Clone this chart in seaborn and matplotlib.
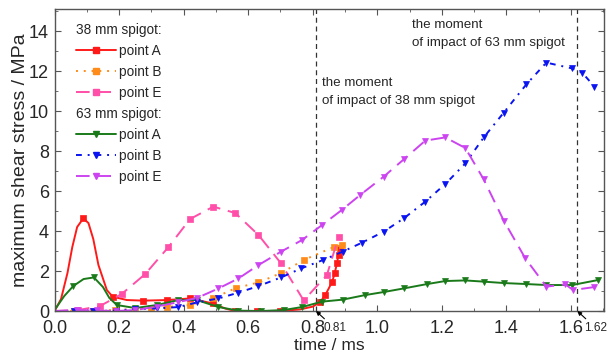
import numpy as np
import matplotlib
matplotlib.use("Agg")
import matplotlib.pyplot as plt
from matplotlib.lines import Line2D
from matplotlib.ticker import MultipleLocator
import seaborn as sns

# ---------------- data ----------------
# 38 mm spigot
t_A38 = [0, 0.02, 0.04, 0.055, 0.07, 0.089, 0.105, 0.12, 0.136, 0.162, 0.18, 0.224, 0.275, 0.35, 0.42, 0.49,
         0.53, 0.56, 0.627, 0.70, 0.76, 0.80, 0.823, 0.839, 0.86, 0.868, 0.875, 0.88, 0.886]
y_A38 = [0, 0.6, 1.9, 3.2, 4.2, 4.63, 4.4, 3.6, 2.3, 1.05, 0.72, 0.55, 0.52, 0.55, 0.63, 0.38,
         0.12, 0.0, 0.0, 0.0, 0.08, 0.22, 0.45, 0.8, 1.45, 1.88, 2.38, 2.8, 3.15]
t_B38 = [0, 0.06, 0.12, 0.188, 0.25, 0.3, 0.348, 0.42, 0.49, 0.562, 0.632, 0.702, 0.772, 0.865, 0.89]
y_B38 = [0, 0.0, 0.02, 0.05, 0.1, 0.15, 0.2, 0.3, 0.63, 1.15, 1.43, 1.9, 2.55, 3.2, 3.3]
t_E38 = [0, 0.074, 0.141, 0.208, 0.281, 0.353, 0.42, 0.492, 0.56, 0.632, 0.702, 0.772, 0.844, 0.88]
y_E38 = [0, 0.05, 0.25, 0.85, 1.85, 3.2, 4.6, 5.22, 4.9, 3.8, 2.38, 0.53, 1.8, 3.7]

# 63 mm spigot
t_A63 = [0, 0.03, 0.058, 0.09, 0.122, 0.15, 0.17, 0.193, 0.25, 0.317, 0.384, 0.441, 0.508, 0.57,
         0.64, 0.71, 0.767, 0.829, 0.893, 0.963, 1.02, 1.082, 1.155, 1.211, 1.273, 1.33, 1.392,
         1.462, 1.524, 1.604, 1.684]
y_A63 = [0.05, 0.75, 1.25, 1.6, 1.68, 1.2, 0.65, 0.3, 0.15, 0.3, 0.55, 0.55, 0.2, 0.02,
         0.0, 0.05, 0.2, 0.47, 0.57, 0.8, 0.95, 1.13, 1.35, 1.5, 1.53, 1.47, 1.4,
         1.35, 1.3, 1.3, 1.55]
t_B63 = [0, 0.06, 0.12, 0.19, 0.25, 0.317, 0.384, 0.441, 0.508, 0.57, 0.632, 0.702, 0.764, 0.832,
         0.893, 0.953, 1.02, 1.082, 1.149, 1.211, 1.273, 1.33, 1.392, 1.462, 1.524, 1.604, 1.635, 1.673]
y_B63 = [0, 0.0, 0.0, 0.02, 0.1, 0.13, 0.2, 0.43, 0.63, 0.92, 1.25, 1.68, 2.13, 2.55,
         2.97, 3.42, 3.97, 4.63, 5.47, 6.35, 7.38, 8.68, 9.92, 11.33, 12.42, 12.13, 11.92, 11.22]
t_E63 = [0, 0.07, 0.13, 0.19, 0.25, 0.317, 0.384, 0.441, 0.508, 0.57, 0.632, 0.702, 0.767, 0.829,
         0.89, 0.947, 1.02, 1.082, 1.149, 1.211, 1.273, 1.33, 1.392, 1.459, 1.524, 1.583, 1.607, 1.673]
y_E63 = [0, 0.05, 0.03, 0.0, 0.05, 0.22, 0.45, 0.65, 1.13, 1.63, 2.3, 2.97, 3.55, 4.3,
         5.05, 5.8, 6.72, 7.58, 8.52, 8.68, 8.15, 6.58, 4.52, 2.63, 1.22, 1.33, 1.05, 1.2]

impact_times = [0.81, 1.62]
impact_labels = ["0.81", "1.62"]
x_ticks = [0.0, 0.2, 0.4, 0.6, 0.8, 1.0, 1.2, 1.4, 1.6]
y_ticks = [0, 2, 4, 6, 8, 10, 12, 14]

# ---------------- style ----------------
sns.set_style("ticks")
FONT = ["Liberation Sans Narrow", "Liberation Sans", "DejaVu Sans"]
plt.rcParams["font.family"] = FONT
plt.rcParams["axes.edgecolor"] = "#555555"
plt.rcParams["axes.linewidth"] = 1.0

C_RED = "#ff1a1a"
C_ORANGE = "#ff8c1a"
C_PINK = "#ff4fa8"
C_GREEN = "#1a7a1a"
C_BLUE = "#0a14f0"
C_VIOLET = "#cc44f0"

fig = plt.figure(figsize=(6.13, 3.6), dpi=100)
ax = fig.add_axes([0.089, 0.136, 0.897, 0.839])

series = [
    (t_A38, y_A38, C_RED, "-", "s", [5, 10, 12, 13, 14, 15, 17, 18, 19] + list(range(22, 29)), "point A"),
    (t_B38, y_B38, C_ORANGE, (0, (1, 3)), "s", list(range(1, 15)), "point B"),
    (t_E38, y_E38, C_PINK, (0, (7, 4)), "s", list(range(1, 14)), "point E"),
    (t_A63, y_A63, C_GREEN, "-", "v", [2, 4] + list(range(7, 31)), "point A"),
    (t_B63, y_B63, C_BLUE, (0, (3, 3, 1, 3)), "v", list(range(1, 28)), "point B"),
    (t_E63, y_E63, C_VIOLET, (0, (7, 4)), "v", list(range(1, 28)), "point E"),
]

handles = []
for t, y, c, ls, mk, me, lab in series:
    sns.lineplot(x=t, y=y, ax=ax, sort=False, estimator=None, color=c, linestyle=ls,
                 linewidth=1.4, marker=mk, markersize=5, markevery=me,
                 markeredgecolor=c, markerfacecolor=c, markeredgewidth=0.5)
    handles.append(Line2D([], [], color=c, linestyle=ls, linewidth=1.4, marker=mk,
                          markersize=5, markeredgecolor=c, markerfacecolor=c, markevery=[1],
                          label=lab))

for xv in impact_times:
    ax.axvline(xv, color="#333333", linestyle=(0, (4, 3)), linewidth=0.9, zorder=1)

ax.set_xlim(0, 1.704)
ax.set_ylim(0, 15.1)
ax.set_xticks(x_ticks)
ax.set_yticks(y_ticks)
ax.set_xticklabels([f"{v:.1f}" for v in x_ticks])
ax.set_yticklabels([str(v) for v in y_ticks])
ax.xaxis.set_minor_locator(MultipleLocator(0.1))
ax.yaxis.set_minor_locator(MultipleLocator(1))
ax.tick_params(which="both", direction="in", top=True, right=True, color="#555555")
ax.tick_params(which="major", length=4, labelsize=13)
ax.tick_params(axis="x", which="major", pad=6.5)
ax.tick_params(axis="y", which="major", pad=4)
ax.tick_params(which="minor", length=2.5)
for sp in ax.spines.values():
    sp.set_visible(True)

ax.set_xlabel("time / ms", fontsize=12.5, labelpad=1)
ax.set_ylabel("maximum shear stress / MPa", fontsize=14, labelpad=0)

# annotations
ax.text(0.83, 10.95, "the moment\nof impact of 38 mm spigot", fontsize=9.6,
        va="center", ha="left", linespacing=1.7)
ax.text(1.108, 13.85, "the moment\nof impact of 63 mm spigot", fontsize=9.6,
        va="center", ha="left", linespacing=1.7)

for xv, lab in zip(impact_times, impact_labels):
    ax.annotate(lab, xy=(xv, 0), xytext=(xv + 0.022, -0.55), textcoords="data",
                fontsize=8.5, ha="left", va="top", annotation_clip=False,
                arrowprops=dict(arrowstyle="-|>", color="black", lw=0.8,
                                mutation_scale=6, shrinkA=0, shrinkB=0))

# legend with headers
blank = Line2D([], [], linestyle="none")
leg_handles = [blank] + handles[:3] + [blank] + handles[3:]
leg_labels = ["38 mm spigot:", "point A", "point B", "point E",
              "63 mm spigot:", "point A", "point B", "point E"]
HL, HTP, FS = 2.9, 0.25, 9.8
leg = ax.legend(leg_handles, leg_labels, loc="upper left", bbox_to_anchor=(0.025, 0.982),
                frameon=False, fontsize=FS, handlelength=HL, handletextpad=HTP,
                labelspacing=0.52, borderaxespad=0.2)
shift = (HL + HTP) * FS * fig.dpi / 72.0
for i in (0, 4):
    leg.get_texts()[i].set_position((-shift, 0))

fig.savefig("out.png", dpi=100)
